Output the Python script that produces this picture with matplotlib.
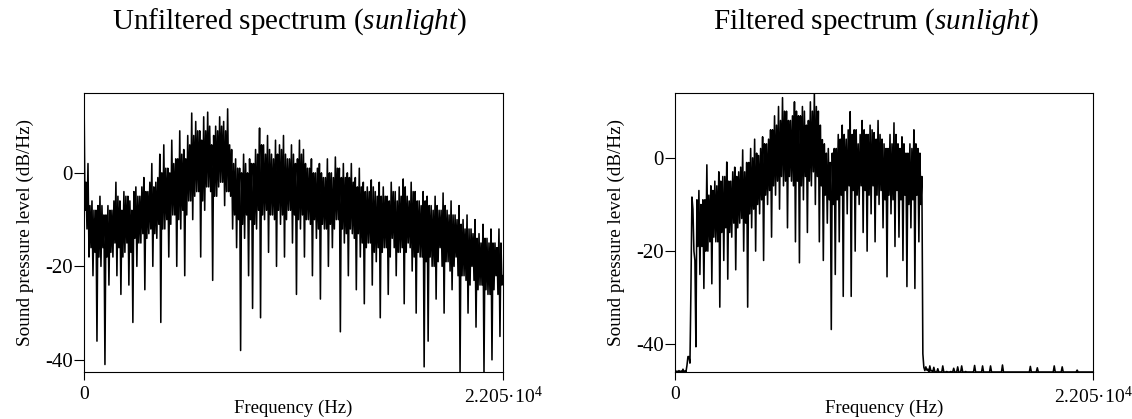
import numpy as np
import matplotlib
matplotlib.use("Agg")
import matplotlib.pyplot as plt

plt.rcParams['font.family'] = ['Liberation Serif', 'DejaVu Serif']
plt.rcParams['mathtext.fontset'] = 'custom'
plt.rcParams['mathtext.rm'] = 'Liberation Serif'
plt.rcParams['mathtext.it'] = 'Liberation Serif:italic'
plt.rcParams['axes.unicode_minus'] = False

# spectrum levels (dB/Hz), evenly spaced from 0 to 22050 Hz
# peaks/dips: spike tops and bottoms, as (high, low) pairs
unfiltered_spikes = [
    17, -8, 2, -18, -6, -22, -8, -36, -5, -20,
    -9, -41, -7, -24, -8, -18, -2, -22, -6, -26,
    -4, -17, -5, -24, -8, -32, -3, -20, -5, -15,
    -1, -25, -4, -13, 2, -20, -2, -14, 4, -32,
    6, -12, 1, -18, 7, -9, 3, -20, 9, -12,
    5, -22, 8, -6, 12.8, -10, 11, -4, 9, -18,
    12, -8, 13, -3, 6, -23, 10, -5, 12, -2,
    11, -7, 13.7, -4, 5, -12, 3, -16, 1, -38,
    4, -14, 0, -22, 2, -29, 5, -12, 9.6, -31,
    6, -10, 8, -17, 4, -9, 7, -20, 6, -11,
    8, -18, 3, -8, 6, -15, 2, -26, 7, -12,
    5, -18, 1, -10, 3, -22, 0, -14, 2, -27,
    -1, -12, 3, -20, 0, -16, 3.4, -10, 1, -34,
    2, -15, 0, -22, 2, -13, -1, -25, 1, -18,
    -2, -28, -3, -15, -1.5, -24, -4, -19, -2, -31,
    -3, -16, -5, -26, -2, -14, -4, -22, -3, -17,
    -1.3, -28, -5, -15, -2, -21, -4, -30, -6, -18,
    -4, -41.5, -5, -36, -7, -20, -5, -27, -8, -16,
    -4.3, -30, -8, -19, -6, -25, -9, -18, -7, -42.6,
    -10, -22, -9, -30, -12, -20, -10, -33, -13, -24,
    -11, -42.6, -14, -26, -12, -40, -15, -22, -12, -35,
]
# dense core of the trace between the spikes, as (high, low) pairs
unfiltered_core = [
    -2, -12, -7, -16, -8, -17, -7, -18, -7, -16,
    -9, -18, -8, -17, -6, -15, -5, -16, -8, -18,
    -5, -15, -6, -17, -4, -14, -5, -15, -3, -13,
    -4, -14, -2, -12, -3, -13, -1, -11, 0, -12,
    1, -10, 0, -11, 2, -9, 3, -10, 4, -8,
    3, -9, 6, -6, 8, -5, 9, -4, 7, -6,
    9, -3, 10, -4, 8, -5, 9, -3, 10, -2,
    9, -4, 6, -5, 2, -9, 1, -10, 0, -11,
    2, -9, 3, -10, 2, -11, 4, -8, 6, -9,
    4, -8, 5, -9, 3, -10, 4, -8, 5, -9,
    4, -10, 3, -8, 4, -9, 3, -10, 4, -9,
    2, -10, 1, -11, 0, -10, 1, -12, 0, -11,
    -1, -12, 0, -11, -1, -12, 1, -10, -1, -12,
    -1, -13, -1, -12, -2, -14, -3, -13, -3, -15,
    -4, -16, -4, -15, -3, -17, -5, -16, -5, -17,
    -5, -16, -6, -18, -4, -16, -6, -17, -5, -16,
    -3, -17, -6, -16, -4, -18, -6, -17, -7, -18,
    -6, -19, -7, -18, -8, -20, -7, -19, -8, -20,
    -7, -19, -9, -21, -9, -20, -10, -22, -11, -22,
    -12, -23, -12, -24, -13, -23, -14, -25, -15, -24,
    -14, -25, -15, -26, -15, -25, -16, -26, -15, -24,
]
unfiltered_last = -22

filtered_spikes = [
    -45.5, -45.9, -45.6, -45.9, -45.3, -45.9, -44.5, -42.6, -28, -8.4,
    -22, -40.5, -7, -25, -9, -28, -1.5, -20, -6, -27,
    -5, -18, -3, -32, -4, -22, -0.9, -26, -5, -17,
    -2, -24, -3, -14, 1.7, -20, -1, -32, 2, -15,
    4, -20, 0.5, -12, 4.5, -22, 3, -10, 6, -17,
    9, -8, 11, -11, 12.9, -6, 10, -15, 8, -5,
    12, -18, 9, -22.5, 11, -9, 7, -16, 12, -6,
    13.9, -10, 10, -18, 3.9, -22, 1, -14, -1, -36.8,
    2, -25, 5, -18, 7, -29.7, 4, -12, 9.9, -29.7,
    6, -20, 3, -10, 8, -16, 5, -20, 7, -12,
    5.4, -18, 8, -10, 4, -15, 2, -25.5, 5, -12,
    7.5, -19, 3, -17, 4.5, -22, 1, -27.6, 3, -15,
    6, -28, 2, -18, -4, -42, -44.8, -45.5, -44.6, -45.7,
    -44.9, -45.8, -45.2, -45.9, -45.9, -44.6, -45.9, -45.8, -45.9, -45.8,
    -45.1, -45.9, -44.8, -45.9, -44.6, -45.9, -45.8, -45.9, -45.9, -45.9,
    -45.8, -44.5, -45.9, -45.9, -45.9, -44.6, -45.9, -45.9, -45.9, -44.6,
    -45.9, -45.9, -45.9, -45.9, -45.9, -44.4, -45.9, -45.9, -45.9, -45.9,
    -45.9, -45.9, -45.9, -45.9, -45.9, -45.9, -45.9, -45.9, -45.9, -44.7,
    -45.9, -45.9, -45.0, -45.9, -45.9, -45.9, -45.9, -45.9, -45.9, -45.9,
    -45.9, -44.6, -45.9, -45.9, -45.9, -44.8, -45.9, -45.9, -45.9, -45.9,
    -45.9, -45.9, -45.5, -45.9, -45.9, -45.9, -45.9, -45.9, -45.9, -45.9,
]
filtered_core = [
    -45.7, -45.9, -45.7, -45.9, -45.7, -45.9, -42.6, -44.0, -11, -20,
    -9, -19, -10, -19, -9, -20, -8, -18, -7, -17,
    -6, -18, -5, -16, -4, -15, -5, -16, -3, -14,
    -4, -15, -2, -13, -3, -14, -1, -12, 0, -11,
    1, -10, 2, -9, 3, -8, 4, -7, 6, -6,
    7, -5, 8, -4, 10, -5, 8, -4, 9, -6,
    10, -5, 9, -6, 10, -4, 8, -5, 10, -3,
    11, -4, 7, -6, 3, -8, 2, -9, 1, -10,
    2, -9, 4, -8, 5, -7, 6, -6, 5, -7,
    6, -8, 5, -6, 6, -7, 5, -8, 6, -6,
    4, -8, 5, -7, 3, -9, 2, -8, 3, -9,
    5, -7, 2, -9, 3, -8, 1, -10, 2, -9,
    3, -8, 1, -10, -44.9, -45.6, -45.3, -45.9, -45.6, -45.9,
    -45.9, -45.9, -45.9, -45.9, -45.9, -45.9, -45.9, -45.9, -45.9, -45.9,
    -45.9, -45.9, -45.9, -45.9, -45.9, -45.9, -45.9, -45.9, -45.9, -45.9,
    -45.9, -45.9, -45.9, -45.9, -45.9, -45.9, -45.9, -45.9, -45.9, -45.9,
    -45.9, -45.9, -45.9, -45.9, -45.9, -45.9, -45.9, -45.9, -45.9, -45.9,
    -45.9, -45.9, -45.9, -45.9, -45.9, -45.9, -45.9, -45.9, -45.9, -45.9,
    -45.9, -45.9, -45.9, -45.9, -45.9, -45.9, -45.9, -45.9, -45.9, -45.9,
    -45.9, -45.9, -45.9, -45.9, -45.9, -45.9, -45.9, -45.9, -45.9, -45.9,
    -45.9, -45.9, -45.9, -45.9, -45.9, -45.9, -45.9, -45.9, -45.9, -45.9,
]
filtered_last = -45.9

nyquist = 22050
titles = ['Unfiltered spectrum ($\\mathit{sunlight)}$', 'Filtered spectrum ($\\mathit{sunlight)}$']
title_x = [0.49, 0.48]
ylims = [(-42.6, 17.1), (-45.9, 13.9)]
yticks = [-40, -20, 0]
xtick_labels = ['0', '2.205\u00b710$^{4}$']


def trace(spikes, core, last):
    # spike pair then core pair: high, low, core high, core low, ...
    sp = np.array(spikes).reshape(-1, 2)
    co = np.array(core).reshape(-1, 2)
    return np.append(np.hstack([sp, co]).ravel(), last)


fig = plt.figure(figsize=(11.32, 4.19), dpi=100)
ax_left = fig.add_axes([0.0742, 0.1122, 0.3701, 0.6659])
ax_right = fig.add_axes([0.5963, 0.1122, 0.3693, 0.6659])

series = [trace(unfiltered_spikes, unfiltered_core, unfiltered_last),
          trace(filtered_spikes, filtered_core, filtered_last)]

for ax, db, title, tx, ylim in zip([ax_left, ax_right], series, titles, title_x, ylims):
    freq = np.linspace(0, nyquist, len(db))
    ax.plot(freq, db, color='black', lw=1.15)
    ax.set_xlim(0, nyquist)
    ax.set_ylim(*ylim)
    ax.set_xticks([0, nyquist])
    ax.set_xticklabels(xtick_labels)
    ax.set_yticks(yticks)
    ax.tick_params(axis='y', direction='out', length=7, width=0.8, labelsize=15, pad=1)
    ax.tick_params(axis='x', direction='out', length=6, width=0.8, labelsize=14, pad=4)
    for s in ax.spines.values():
        s.set_linewidth(0.8)
    ax.set_xlabel('Frequency (Hz)', fontsize=13.5, labelpad=-5)
    ax.set_ylabel('Sound pressure level (dB/Hz)', fontsize=13.8, labelpad=8)
    ax.set_title(title, fontsize=21, pad=46, x=tx)

fig.savefig('out.png', dpi=100)
